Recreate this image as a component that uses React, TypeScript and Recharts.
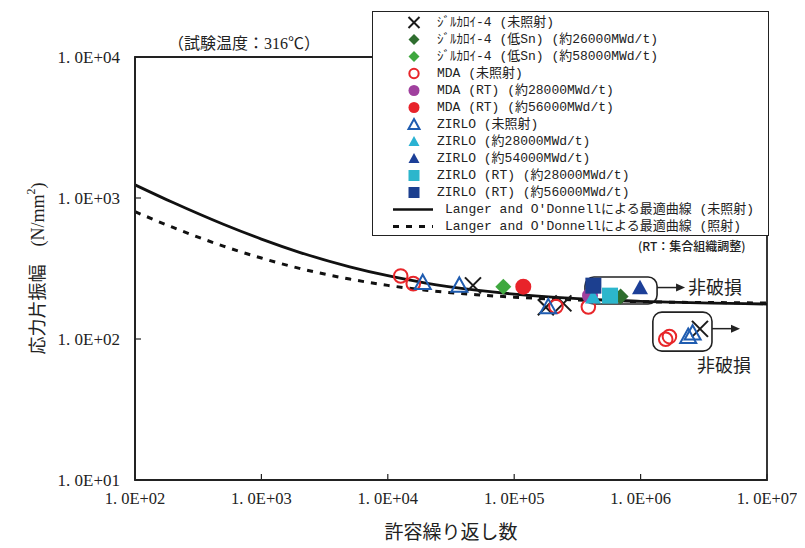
import React from "react";
import {
  ComposedChart,
  XAxis,
  YAxis,
  Line,
  Scatter,
  ReferenceArea,
  Label
} from "recharts";

const SERIF = "'Liberation Serif', 'Noto Sans CJK JP', serif";
const MONO = "'Liberation Mono', 'Noto Sans CJK JP', monospace";
const JP = "'Noto Sans CJK JP', sans-serif";

const xTicks = [1e2, 1e3, 1e4, 1e5, 1e6, 1e7];
const yTicks = [1e1, 1e2, 1e3, 1e4];

// best fit curves
const curveN = [1e2, 2e2, 5e2, 1e3, 2e3, 5e3, 1e4, 2e4, 5e4, 1e5, 2e5, 5e5, 1e6, 2e6, 5e6, 1e7];
const fitUnirr = [1240, 928, 651, 511, 412, 325, 281, 249, 222, 208, 198, 189, 185, 182, 179, 177];
const fitIrr = [800, 618, 456, 375, 317, 266, 240, 222, 206, 198, 192, 187, 184, 182, 181, 180];

// test points [cycles, stress amplitude N/mm2]
const zry4Unirr = [[47200, 240], [178000, 168], [245000, 179], [2950000, 118]];
const zry4Sn26 = [[695000, 200]];
const zry4Sn58 = [[82000, 235]];
const mdaUnirr = [[12650, 280], [15900, 247], [214000, 170], [386000, 169], [1580000, 99.6], [1690000, 104]];
const mdaRt28 = [[398000, 203]];
const mdaRt56 = [[118000, 235]];
const zirloUnirr = [[18900, 251], [36800, 240], [186000, 169], [2380000, 104], [2580000, 110]];
const zirlo28 = [[420000, 198]];
const zirlo54 = [[989000, 231]];
const zirloRt28 = [[573000, 203]];
const zirloRt56 = [[423000, 239]];

const toPts = (arr: number[][]) => arr.map(([n, s]) => ({ n, s }));
const curve = (vals: number[]) => curveN.map((n, i) => ({ n, s: vals[i] }));

const series = [
  { label: "ｼﾞﾙｶﾛｲ-4 (未照射)", kind: "x", color: "#1a1a1a", data: zry4Unirr },
  { label: "ｼﾞﾙｶﾛｲ-4 (低Sn) (約26000MWd/t)", kind: "diamond", color: "#2f6e2f", data: zry4Sn26 },
  { label: "ｼﾞﾙｶﾛｲ-4 (低Sn) (約58000MWd/t)", kind: "diamond", color: "#3fa83f", data: zry4Sn58 },
  { label: "MDA (未照射)", kind: "circleOpen", color: "#e8262a", data: mdaUnirr },
  { label: "MDA (RT) (約28000MWd/t)", kind: "circle", color: "#a0409e", data: mdaRt28 },
  { label: "MDA (RT) (約56000MWd/t)", kind: "circle", color: "#e8232a", data: mdaRt56 },
  { label: "ZIRLO (未照射)", kind: "triOpen", color: "#1f5cb0", data: zirloUnirr },
  { label: "ZIRLO (約28000MWd/t)", kind: "tri", color: "#2ab2d2", data: zirlo28 },
  { label: "ZIRLO (約54000MWd/t)", kind: "tri", color: "#1c3f98", data: zirlo54 },
  { label: "ZIRLO (RT) (約28000MWd/t)", kind: "square", color: "#2cb6cc", data: zirloRt28 },
  { label: "ZIRLO (RT) (約56000MWd/t)", kind: "square", color: "#1c3f8f", data: zirloRt56 }
];

const lineLabels = [
  "Langer and O'Donnellによる最適曲線 (未照射)",
  "Langer and O'Donnellによる最適曲線 (照射)"
];

function Marker({ kind, color, cx, cy, r }: any) {
  switch (kind) {
    case "x":
      return (
        <g stroke={color} strokeWidth={2}>
          <line x1={cx - r} y1={cy - r} x2={cx + r} y2={cy + r} />
          <line x1={cx - r} y1={cy + r} x2={cx + r} y2={cy - r} />
        </g>
      );
    case "diamond":
      return <polygon points={`${cx},${cy - r} ${cx + r},${cy} ${cx},${cy + r} ${cx - r},${cy}`} fill={color} />;
    case "circleOpen":
      return <circle cx={cx} cy={cy} r={r * 0.85} fill="none" stroke={color} strokeWidth={2} />;
    case "circle":
      return <circle cx={cx} cy={cy} r={r} fill={color} />;
    case "triOpen":
      return (
        <polygon
          points={`${cx},${cy - r} ${cx + r},${cy + r * 0.8} ${cx - r},${cy + r * 0.8}`}
          fill="none"
          stroke={color}
          strokeWidth={2}
        />
      );
    case "tri":
      return <polygon points={`${cx},${cy - r} ${cx + r},${cy + r * 0.8} ${cx - r},${cy + r * 0.8}`} fill={color} />;
    case "square":
      return <rect x={cx - r} y={cy - r} width={r * 2} height={r * 2} fill={color} />;
    default:
      return null;
  }
}

const fmt = (v: number) => {
  const e = Math.round(Math.log10(v));
  return `1. 0E+${String(e).padStart(2, "0")}`;
};

const XTick = (props: any) => {
  const { x, y, payload } = props;
  return (
    <g>
      <line x1={x} x2={x} y1={y} y2={y - 6} stroke="#222" strokeWidth={1.2} />
      <text x={x} y={y + 24} textAnchor="middle" fontSize={16.5} fontFamily={SERIF} fill="#222">
        {fmt(payload.value)}
      </text>
    </g>
  );
};

const YTick = (props: any) => {
  const { x, y, payload } = props;
  return (
    <g>
      <line x1={x} x2={x + 6} y1={y} y2={y} stroke="#222" strokeWidth={1.2} />
      <text x={x - 15} y={y} dy="0.35em" textAnchor="end" fontSize={17} fontFamily={SERIF} fill="#222">
        {fmt(payload.value)}
      </text>
    </g>
  );
};

const rowY = (i: number) => 10.5 + 17 * i;

const LegendBox = () => (
  <div
    style={{
      position: "absolute",
      left: 364,
      top: 3,
      width: 397,
      height: 225,
      border: "1.5px solid #222",
      background: "#fff",
      boxSizing: "border-box"
    }}
  >
    <svg width={394} height={222} style={{ display: "block" }}>
      {series.map((s, i) => (
        <g key={s.label}>
          <Marker kind={s.kind} color={s.color} cx={41} cy={rowY(i)} r={5.5} />
          <text x={64} y={rowY(i)} dominantBaseline="central" fontSize={13} fontFamily={MONO} fill="#222">
            {s.label}
          </text>
        </g>
      ))}
      <line x1={20} x2={60} y1={rowY(11)} y2={rowY(11)} stroke="#111" strokeWidth={2.5} />
      <text x={72} y={rowY(11)} dominantBaseline="central" fontSize={13} fontFamily={MONO} fill="#222">
        {lineLabels[0]}
      </text>
      <line x1={20} x2={60} y1={rowY(12)} y2={rowY(12)} stroke="#111" strokeWidth={3} strokeDasharray="6 7" />
      <text x={72} y={rowY(12)} dominantBaseline="central" fontSize={13} fontFamily={MONO} fill="#222">
        {lineLabels[1]}
      </text>
    </svg>
  </div>
);

const RunoutBox = (props: any) => {
  const { x, y, width, height, textBelow } = props;
  const top = Math.min(y, y + height);
  const h = Math.abs(height);
  const right = x + width;
  const ay = top + h / 2 - 3;
  return (
    <g>
      <rect x={x} y={top} width={width} height={h} rx={9} fill="none" stroke="#222" strokeWidth={1.6} />
      <line x1={right} x2={right + 20} y1={ay} y2={ay} stroke="#222" strokeWidth={1.5} />
      <polygon points={`${right + 28},${ay} ${right + 19},${ay - 4} ${right + 19},${ay + 4}`} fill="#222" />
      {textBelow ? (
        <text x={right - 15} y={top + h + 15} dominantBaseline="central" fontSize={18} fontFamily={SERIF} fill="#222">
          非破損
        </text>
      ) : (
        <text x={right + 31} y={ay} dominantBaseline="central" fontSize={18} fontFamily={SERIF} fill="#222">
          非破損
        </text>
      )}
    </g>
  );
};

export default function App() {
  return (
    <div style={{ position: "relative", width: 797, height: 540 }}>
      <ComposedChart width={797} height={540} margin={{ top: 49, right: 38, bottom: 8, left: 12 }}>
        <XAxis
          type="number"
          dataKey="n"
          scale="log"
          domain={[1e2, 1e7]}
          ticks={xTicks}
          allowDataOverflow
          height={60}
          tickSize={0}
          tickMargin={0}
          tickLine={false}
          axisLine={{ stroke: "#222", strokeWidth: 1.8 }}
          tick={<XTick />}
          interval={0}
        >
          <Label
            content={(p: any) => {
              const vb = p.viewBox || { x: 127, width: 632, y: 472 };
              return (
                <text
                  x={vb.x + vb.width / 2}
                  y={524}
                  textAnchor="middle"
                  dominantBaseline="central"
                  fontSize={19}
                  fontFamily={SERIF}
                  fill="#222"
                >
                  許容繰り返し数
                </text>
              );
            }}
          />
        </XAxis>
        <YAxis
          type="number"
          dataKey="s"
          scale="log"
          domain={[10, 1e4]}
          ticks={yTicks}
          allowDataOverflow
          width={115}
          tickSize={0}
          tickMargin={0}
          tickLine={false}
          axisLine={{ stroke: "#222", strokeWidth: 1.8 }}
          tick={<YTick />}
          interval={0}
        >
          <Label
            content={(p: any) => {
              const vb = p.viewBox || { y: 49, height: 423 };
              const cy = vb.y + vb.height / 2;
              return (
                <text
                  x={30}
                  y={cy}
                  transform={`rotate(-90 30 ${cy})`}
                  textAnchor="middle"
                  dominantBaseline="central"
                  fontSize={18}
                  fontFamily={SERIF}
                  fill="#222"
                >
                  応力片振幅　(N/mm
                  <tspan dy={-7} fontSize={12}>2</tspan>
                  <tspan dy={7}>)</tspan>
                </text>
              );
            }}
          />
        </YAxis>

        <ReferenceArea x1={1e2} x2={1e7} y1={10} y2={1e4} fill="none" stroke="#222" strokeWidth={1.8} />
        <ReferenceArea x1={363000} x2={1350000} y1={177} y2={275} shape={(p: any) => <RunoutBox {...p} />} />
        <ReferenceArea x1={1250000} x2={3670000} y1={82} y2={155} shape={(p: any) => <RunoutBox {...p} textBelow />} />

        <Line
          data={curve(fitUnirr)}
          dataKey="s"
          type="monotone"
          stroke="#111"
          strokeWidth={2.8}
          dot={false}
          activeDot={false}
          isAnimationActive={false}
        />
        <Line
          data={curve(fitIrr)}
          dataKey="s"
          type="monotone"
          stroke="#111"
          strokeWidth={3}
          strokeDasharray="6 7"
          dot={false}
          activeDot={false}
          isAnimationActive={false}
        />

        {series.map((s) => (
          <Scatter
            key={s.label}
            name={s.label}
            data={toPts(s.data)}
            isAnimationActive={false}
            shape={(p: any) => <Marker kind={s.kind} color={s.color} cx={p.cx} cy={p.cy} r={8} />}
          />
        ))}
      </ComposedChart>

      <div
        style={{
          position: "absolute",
          left: 160,
          top: 27,
          fontSize: 16,
          lineHeight: "18px",
          fontFamily: SERIF,
          color: "#222",
          whiteSpace: "nowrap"
        }}
      >
        （試験温度：316℃）
      </div>
      <LegendBox />
      <div
        style={{
          position: "absolute",
          left: 630,
          top: 230,
          fontSize: 12,
          lineHeight: "16px",
          fontFamily: JP,
          fontWeight: 500,
          color: "#222",
          whiteSpace: "nowrap"
        }}
      >
        (RT：集合組織調整)
      </div>
    </div>
  );
}
